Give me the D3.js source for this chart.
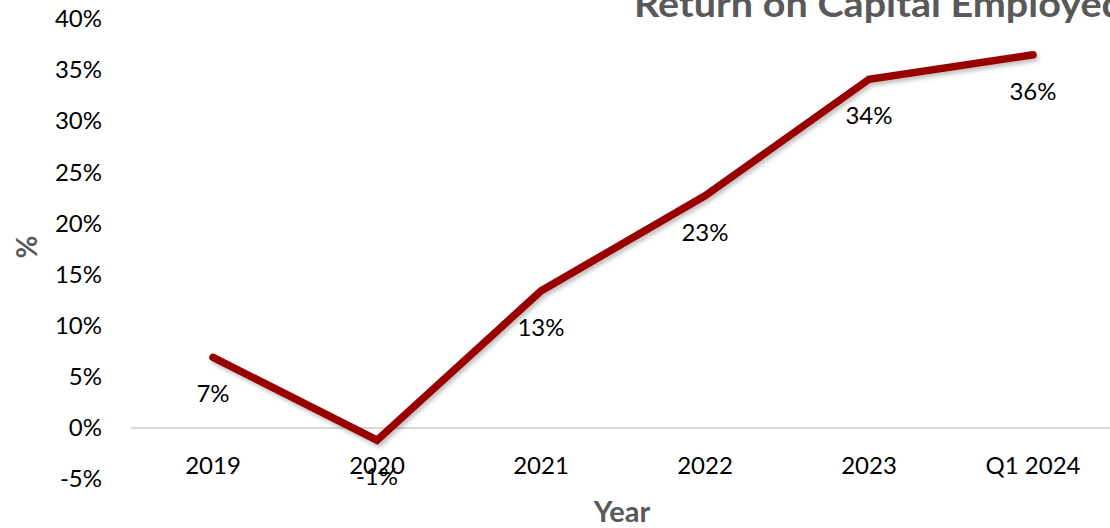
<!DOCTYPE html>
<html>
<head>
<meta charset="utf-8">
<script src="https://cdn.jsdelivr.net/npm/d3@7"></script>
<style>
  html, body { margin: 0; padding: 0; background: #fff; overflow: hidden; }
  svg { display: block; }
  text { font-family: Lato, "Open Sans", sans-serif; }
</style>
</head>
<body>
<svg id="chart" width="1110" height="528"></svg>
<script>
// Return on Capital Employed, by year
const categories = ["2019", "2020", "2021", "2022", "2023", "Q1 2024"];
const roceValues = [6.9, -1.2, 13.4, 22.7, 34.1, 36.5];
const roceLabels = ["7%", "-1%", "13%", "23%", "34%", "36%"];
const yTicks = [-5, 0, 5, 10, 15, 20, 25, 30, 35, 40];

const svg = d3.select("#chart");

const plot = { left: 131, right: 1115, top: 19, bottom: 479 };

const x = d3.scaleBand()
  .domain(categories)
  .range([plot.left, plot.right]);

const y = d3.scaleLinear()
  .domain([-5, 40])
  .range([plot.bottom, plot.top]);

// soft shadow under the series line
const defs = svg.append("defs");
const shadow = defs.append("filter")
  .attr("id", "lineShadow")
  .attr("x", "-10%").attr("y", "-10%")
  .attr("width", "120%").attr("height", "120%");
shadow.append("feDropShadow")
  .attr("dx", 2).attr("dy", 3)
  .attr("stdDeviation", 2)
  .attr("flood-color", "#000")
  .attr("flood-opacity", 0.25);

// zero baseline
svg.append("line")
  .attr("x1", plot.left).attr("x2", plot.right)
  .attr("y1", y(0)).attr("y2", y(0))
  .attr("stroke", "#d9d9d9")
  .attr("stroke-width", 2);

// y axis (labels only)
const yAxis = d3.axisLeft(y)
  .tickValues(yTicks)
  .tickFormat(d => d + "%")
  .tickSize(0)
  .tickPadding(0);
const yG = svg.append("g")
  .attr("transform", `translate(102,0)`)
  .call(yAxis);
yG.select(".domain").remove();
yG.selectAll("text")
  .attr("font-family", "Lato, 'Open Sans', sans-serif")
  .attr("font-size", 24)
  .attr("fill", "#000");

// x axis (labels only)
const xAxis = d3.axisBottom(x)
  .tickSize(0)
  .tickPadding(0);
const xG = svg.append("g")
  .attr("transform", `translate(0,466)`)
  .call(xAxis);
xG.select(".domain").remove();
xG.selectAll("text")
  .attr("dy", "0.35em")
  .attr("font-family", "Lato, 'Open Sans', sans-serif")
  .attr("font-size", 24)
  .attr("fill", "#000");

const cx = d => x(d) + x.bandwidth() / 2;

// series line
const line = d3.line()
  .x((d, i) => cx(categories[i]))
  .y(d => y(d));

svg.append("path")
  .datum(roceValues)
  .attr("d", line)
  .attr("fill", "none")
  .attr("stroke", "#990000")
  .attr("stroke-width", 7.5)
  .attr("stroke-linejoin", "miter")
  .attr("stroke-linecap", "round")
  .attr("filter", "url(#lineShadow)");

// value labels below each point
svg.append("g")
  .selectAll("text")
  .data(roceValues)
  .join("text")
  .attr("x", (d, i) => cx(categories[i]))
  .attr("y", d => y(d) + 39)
  .attr("text-anchor", "middle")
  .attr("dominant-baseline", "middle")
  .attr("font-size", 24)
  .attr("fill", "#000")
  .text((d, i) => roceLabels[i]);

// chart title
svg.append("text")
  .attr("x", 634)
  .attr("y", 17)
  .attr("font-size", 36)
  .attr("font-weight", "bold")
  .attr("fill", "#595959")
  .attr("textLength", 490)
  .attr("lengthAdjust", "spacingAndGlyphs")
  .text("Return on Capital Employed");

// axis titles
svg.append("text")
  .attr("transform", "translate(37,247) rotate(-90)")
  .attr("text-anchor", "middle")
  .attr("font-size", 28)
  .attr("font-weight", "bold")
  .attr("fill", "#595959")
  .text("%");

svg.append("text")
  .attr("x", 622)
  .attr("y", 522)
  .attr("text-anchor", "middle")
  .attr("font-size", 29)
  .attr("font-weight", "bold")
  .attr("fill", "#595959")
  .text("Year");
</script>
</body>
</html>
